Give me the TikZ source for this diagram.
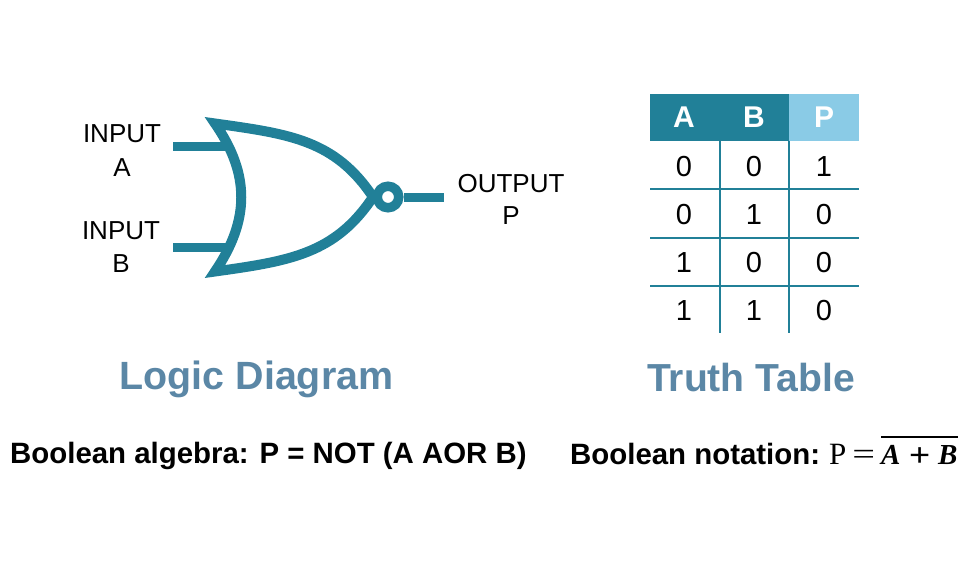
\documentclass[tikz,border=0pt]{standalone}
\usepackage{fontspec}
\setmainfont{Liberation Sans}
\newfontfamily\serifface{Liberation Serif}
\definecolor{tealgate}{HTML}{218098}
\definecolor{lightcell}{HTML}{8ACBE6}
\definecolor{headblue}{HTML}{5B87A6}
\newcommand{\fs}[1]{\fontsize{#1}{#1}\selectfont}
\tikzset{
  wire/.style={draw=tealgate,line width=9pt,line cap=butt},
  gateline/.style={draw=tealgate,line width=10pt,line join=miter,miter limit=3.2},
  gridline/.style={draw=tealgate,line width=1.8pt},
  pinlabel/.style={inner sep=0pt,anchor=base,align=center,font=\fs{26},text=black},
  cell/.style={inner sep=0pt,anchor=base,font=\fs{29},text=black},
  headcell/.style={inner sep=0pt,anchor=base,font=\fs{30}\bfseries,text=white},
  title/.style={inner sep=0pt,anchor=base,font=\fs{39.4}\bfseries,text=headblue},
  formula/.style={inner sep=0pt,anchor=base west,font=\fs{29.4}\bfseries,text=black},
}
\begin{document}
\begin{tikzpicture}[x=1pt,y=-1pt]
\useasboundingbox (0,0) rectangle (973,564);
% gate
\coordinate (gtop) at (215,123.5);
\coordinate (gbot) at (215,271.5);
\coordinate (nose) at (373,197);
\coordinate (ga) at (228,147);
\coordinate (gb) at (228,247);
\coordinate (ina) at (173,147);
\coordinate (inb) at (173,247);
\coordinate (out) at (444,197);
\draw[wire] (ina) -- (ga);
\draw[wire] (inb) -- (gb);
\draw[gateline] (gtop) .. controls (290,134) and (335,140) .. (nose)
  .. controls (335,254) and (290,261) .. (gbot)
  .. controls (250,220) and (250,174) .. (gtop) -- cycle;
\node[circle,draw=tealgate,line width=9.5pt,fill=white,minimum size=21.5pt,inner sep=0pt] (bub) at (388,197) {};
\draw[wire] (bub.east) -- (out);
\node[pinlabel] (la) at (122,176) {INPUT\\[7pt]A};
\node[pinlabel] (lb) at (121,272) {INPUT\\[7pt]B};
\node[pinlabel] (lo) at (511,224) {OUTPUT\\[6pt]P};
% table
\fill[tealgate] (650,94) rectangle (789,141.5);
\fill[lightcell] (789,94) rectangle (859,141.5);
\draw[gridline] (719.9,141) -- (719.9,333);
\draw[gridline] (789,141) -- (789,333);
\draw[gridline] (650,189) -- (859,189);
\draw[gridline] (650,238) -- (859,238);
\draw[gridline] (650,286) -- (859,286);
\node[headcell] (ha) at (684,128) {A};
\node[headcell] (hb) at (754,128) {B};
\node[headcell] (hp) at (824,128) {P};
\foreach \n/\y/\a/\b/\p in {1/176.5/0/0/1,2/224.5/0/1/0,3/272.5/1/0/0,4/320.5/1/1/0}{
  \node[cell] (ca\n) at (684,\y) {\a};
  \node[cell] (cb\n) at (754,\y) {\b};
  \node[cell] (cp\n) at (824,\y) {\p};
}
% titles
\node[title] (t1) at (256.5,389) {Logic Diagram};
\node[title,font=\fs{39.1}\bfseries] (t2) at (751,391) {Truth Table};
% formulas
\node[formula] (f1) at (10,463) {Boolean algebra: P = NOT (A AOR B)};
\node[formula] (f2) at (570,464) {Boolean notation:};
\node[formula,font=\fs{31}\serifface] (f3) at (829,464) {P\hspace{6pt}\scalebox{1.3}[1]{=}};
\node[formula,font=\fs{29}\serifface\bfseries\itshape] (f4) at (881,464) {A\hspace{8pt}\raisebox{-2.5pt}{\scalebox{1.3}[1.15]{+}}\hspace{8pt}B};
\draw[black,line width=1.3pt] (881,437) -- (958,437);
\end{tikzpicture}
\end{document}
